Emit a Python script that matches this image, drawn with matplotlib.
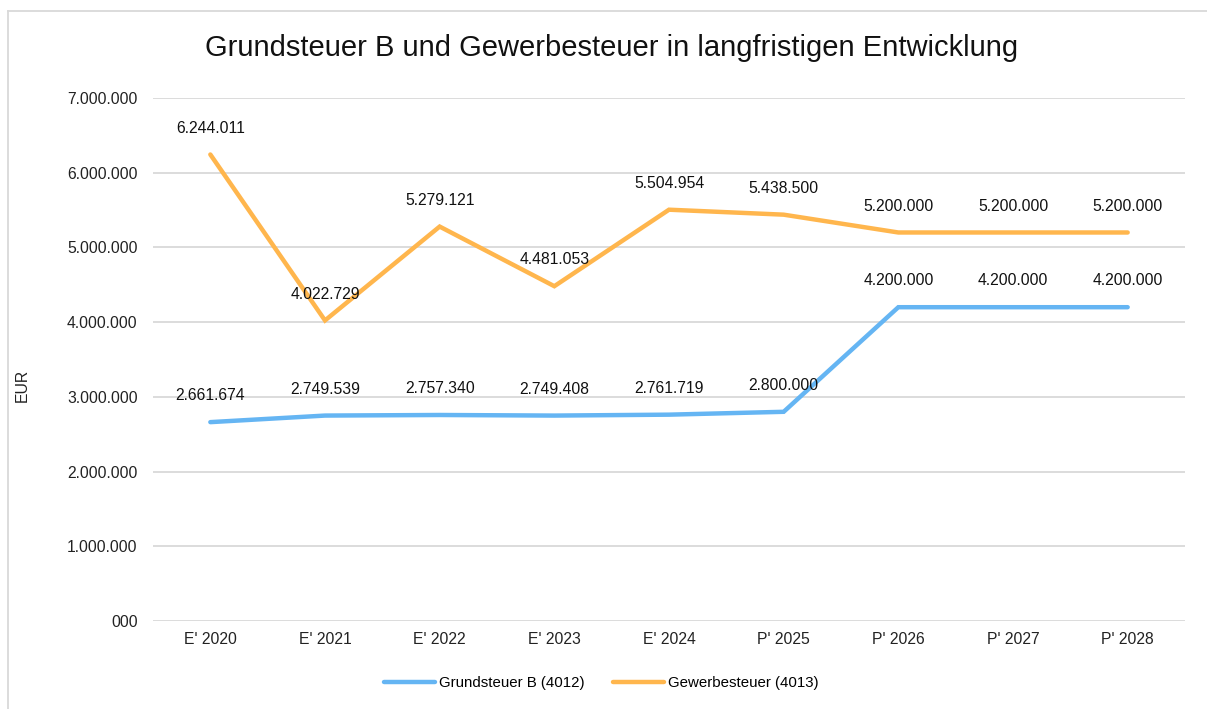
import matplotlib
matplotlib.use("Agg")
import matplotlib.pyplot as plt
from matplotlib.lines import Line2D

plt.rcParams['font.family'] = ['Liberation Sans', 'DejaVu Sans']

categories = ["E' 2020", "E' 2021", "E' 2022", "E' 2023", "E' 2024",
              "P' 2025", "P' 2026", "P' 2027", "P' 2028"]
grundsteuer = [2661674, 2749539, 2757340, 2749408, 2761719,
               2800000, 4200000, 4200000, 4200000]
gewerbesteuer = [6244011, 4022729, 5279121, 4481053, 5504954,
                 5438500, 5200000, 5200000, 5200000]
yticks = [0, 1000000, 2000000, 3000000, 4000000, 5000000, 6000000, 7000000]
series_names = ["Grundsteuer B (4012)", "Gewerbesteuer (4013)"]
title = "Grundsteuer B und Gewerbesteuer in langfristigen Entwicklung"

blue = "#65B5F3"
orange = "#FFB64D"
FS = 11.3

W, H = 1207, 709
fig = plt.figure(figsize=(W / 100, H / 100), dpi=100)

def fx(px):
    return px / W

def fy(py):
    return 1 - py / H

ax = fig.add_axes([fx(153), fy(621), fx(1185) - fx(153), fy(98) - fy(621)])

def fmt(v):
    if v == 0:
        return "000"
    return f"{v:,.0f}".replace(",", ".")

x = list(range(len(categories)))
ax.plot(x, grundsteuer, color=blue, lw=3.2, solid_capstyle='round', solid_joinstyle='miter', zorder=3)
ax.plot(x, gewerbesteuer, color=orange, lw=3.2, solid_capstyle='round', solid_joinstyle='miter', zorder=3)

for xi, v in zip(x, grundsteuer):
    ax.annotate(fmt(v), (xi, v), xytext=(0, 19), textcoords='offset points',
                ha='center', va='center', fontsize=FS, color='#111111', zorder=4)
for xi, v in zip(x, gewerbesteuer):
    ax.annotate(fmt(v), (xi, v), xytext=(0, 19), textcoords='offset points',
                ha='center', va='center', fontsize=FS, color='#111111', zorder=4)

ax.set_xlim(-0.5, len(categories) - 0.5)
ax.set_ylim(0, 7000000)
ax.set_yticks(yticks)
ax.set_yticklabels([fmt(v) for v in yticks], fontsize=FS, color='#222222')
ax.set_xticks(x)
ax.set_xticklabels(categories, fontsize=FS, color='#222222')
ax.tick_params(axis='both', length=0)
ax.tick_params(axis='y', pad=11)
ax.tick_params(axis='x', pad=8)
ax.grid(axis='y', color='#D9D9D9', lw=1.3)
ax.set_axisbelow(True)
for s in ax.spines.values():
    s.set_visible(False)

fig.text(fx(22), fy(385), "EUR", rotation=90, ha='center', va='center', fontsize=FS, color='#222222')
fig.text(fx(612), fy(48), title, ha='center', va='center', fontsize=21, color='#111111')

handles = [Line2D([0], [0], color=blue, lw=3.2, solid_capstyle='round'),
           Line2D([0], [0], color=orange, lw=3.2, solid_capstyle='round')]
fig.legend(handles, series_names, loc='center', bbox_to_anchor=(fx(601), fy(683)),
           ncol=2, frameon=False, fontsize=10.8, handlelength=3.4, handletextpad=0.25,
           columnspacing=1.9)

# chart frame (left and top edges)
fig.add_artist(Line2D([fx(8), fx(8)], [fy(11), 0], color='#D9D9D9', lw=1.3, transform=fig.transFigure))
fig.add_artist(Line2D([fx(8), 1], [fy(11), fy(11)], color='#D9D9D9', lw=1.3, transform=fig.transFigure))

fig.savefig("out.png", dpi=100, facecolor='white')
